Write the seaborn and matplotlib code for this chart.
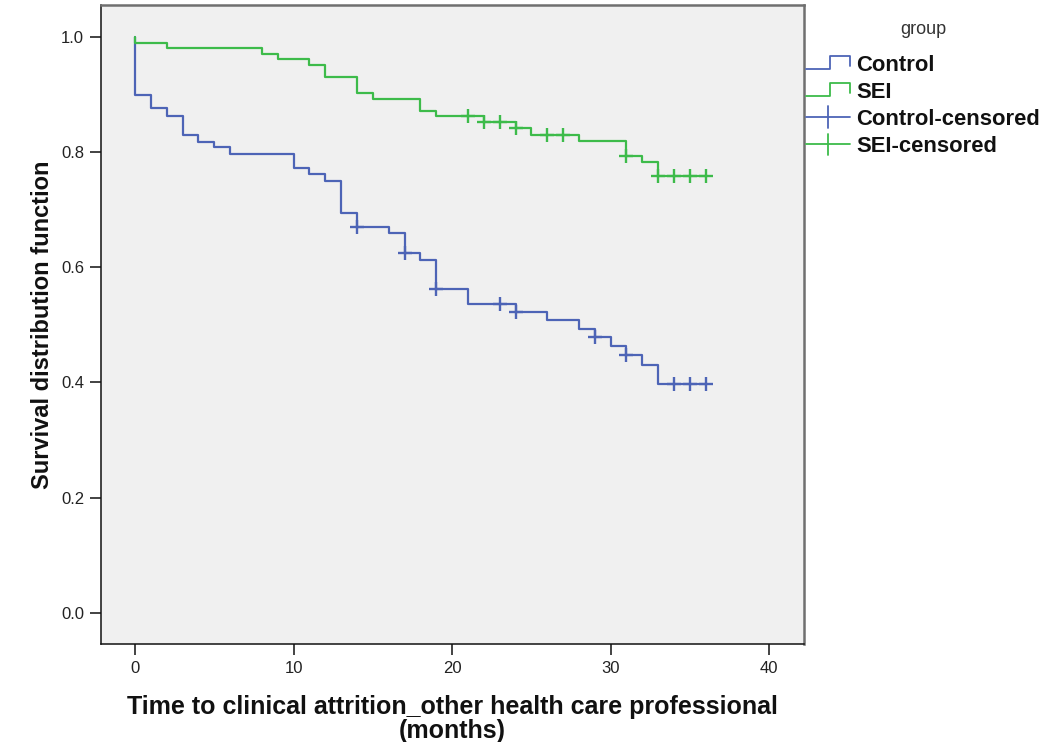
import matplotlib
matplotlib.use("Agg")
import matplotlib.pyplot as plt
from matplotlib.legend_handler import HandlerBase
from matplotlib.lines import Line2D
import numpy as np
import pandas as pd
import seaborn as sns

# ---- data ----
control_times = [0, 0, 1, 2, 3, 4, 5, 6, 10, 11, 12, 13, 14, 16, 17, 18, 19, 21, 24, 26, 28, 29, 30, 31, 32, 33, 36]
control_surv = [1.0, 0.899, 0.876, 0.863, 0.830, 0.818, 0.808, 0.796, 0.773, 0.762, 0.750, 0.694, 0.670,
                0.660, 0.624, 0.612, 0.562, 0.536, 0.522, 0.508, 0.493, 0.478, 0.463, 0.447, 0.431, 0.397, 0.397]
control_censored = [14, 17, 19, 23, 24, 29, 31, 34, 35, 36]

sei_times = [0, 0, 2, 8, 9, 11, 12, 14, 15, 18, 19, 22, 24, 25, 28, 31, 32, 33, 36]
sei_surv = [1.0, 0.990, 0.981, 0.971, 0.961, 0.951, 0.931, 0.902, 0.892, 0.872, 0.862, 0.852, 0.841,
            0.830, 0.819, 0.794, 0.782, 0.758, 0.758]
sei_censored = [21, 22, 23, 24, 26, 27, 31, 33, 34, 35, 36]

groups = ["Control", "SEI"]
legend_labels = ["Control", "SEI", "Control-censored", "SEI-censored"]
x_ticks = [0, 10, 20, 30, 40]
y_ticks = [0.0, 0.2, 0.4, 0.6, 0.8, 1.0]

BLUE = "#4d64b6"
GREEN = "#3dbb4a"
palette = {"Control": BLUE, "SEI": GREEN}


def step_value(times, surv, t):
    idx = max(i for i, tt in enumerate(times) if tt <= t)
    return surv[idx]


curves = pd.concat([
    pd.DataFrame({"time": control_times, "surv": control_surv, "group": "Control"}),
    pd.DataFrame({"time": sei_times, "surv": sei_surv, "group": "SEI"}),
], ignore_index=True)

cens = pd.concat([
    pd.DataFrame({"time": control_censored,
                  "surv": [step_value(control_times, control_surv, t) for t in control_censored],
                  "group": "Control"}),
    pd.DataFrame({"time": sei_censored,
                  "surv": [step_value(sei_times, sei_surv, t) for t in sei_censored],
                  "group": "SEI"}),
], ignore_index=True)

sns.set_style("white")
plt.rcParams["font.family"] = ["Liberation Sans", "DejaVu Sans"]

fig = plt.figure(figsize=(10.58, 7.42), dpi=100)
ax = fig.add_axes([0.0952, 0.1321, 0.6648, 0.8616])
ax.set_facecolor("#f0f0f0")

sns.lineplot(data=curves, x="time", y="surv", hue="group", palette=palette,
             estimator=None, sort=False, units="group", drawstyle="steps-post",
             linewidth=1.6, ax=ax, legend=False)
for g in groups:
    sub = cens[cens["group"] == g]
    ax.plot(sub["time"], sub["surv"], linestyle="none", marker="+", markersize=10,
            markeredgewidth=1.7, color=palette[g])

ax.set_xlim(-2.16, 42.2)
ax.set_ylim(-0.0544, 1.056)
ax.set_xticks(x_ticks)
ax.set_yticks(y_ticks)
ax.set_yticklabels([f"{v:.1f}" for v in y_ticks])
ax.tick_params(axis="both", direction="out", length=8, width=1.2, color="#222222",
               labelsize=12, labelcolor="#222222", left=True, bottom=True, pad=4)

for s in ["left", "bottom"]:
    ax.spines[s].set_color("#111111")
    ax.spines[s].set_linewidth(1.1)
for s in ["top", "right"]:
    ax.spines[s].set_color("#6f6f6f")
    ax.spines[s].set_linewidth(1.8)

ax.set_xlabel("Time to clinical attrition_other health care professional\n(months)",
              fontsize=18, fontweight="bold", linespacing=0.98, labelpad=14, color="#111111")
ax.set_ylabel("Survival distribution function", fontsize=17, fontweight="bold", labelpad=5,
              color="#111111")


class StepHandler(HandlerBase):
    def create_artists(self, legend, orig_handle, xdescent, ydescent, width, height, fontsize, trans):
        x0, x1 = -xdescent, -xdescent + width
        xm = x0 + width * 0.55
        ylo = -ydescent + height * 0.1
        yhi = -ydescent + height * 0.95
        ymid = -ydescent + height * 0.3
        xs = [x0, xm, xm, x1, x1]
        ys = [ylo, ylo, yhi, yhi, ymid]
        line = Line2D(xs, ys, color=orig_handle.get_color(), linewidth=1.3)
        line.set_transform(trans)
        return [line]


class PlusHandler(HandlerBase):
    def create_artists(self, legend, orig_handle, xdescent, ydescent, width, height, fontsize, trans):
        x0, x1 = -xdescent, -xdescent + width
        yc = -ydescent + height / 2
        h = Line2D([x0, x1], [yc, yc], color=orig_handle.get_color(), linewidth=1.3)
        v = Line2D([(x0 + x1) / 2] * 2, [yc - height * 0.7, yc + height * 0.7],
                   color=orig_handle.get_color(), linewidth=1.3)
        h.set_transform(trans)
        v.set_transform(trans)
        return [h, v]


h_c = Line2D([], [], color=BLUE)
h_s = Line2D([], [], color=GREEN)
h_cc = Line2D([], [], color=BLUE, marker="+")
h_sc = Line2D([], [], color=GREEN, marker="+")
leg = fig.legend([h_c, h_s, h_cc, h_sc], legend_labels,
                 loc="upper left", bbox_to_anchor=(0.743, 0.953),
                 frameon=False, prop={"weight": "bold", "size": 15.8},
                 handlelength=2.0, handletextpad=0.3, labelspacing=0.28,
                 handler_map={h_c: StepHandler(), h_s: StepHandler(),
                              h_cc: PlusHandler(), h_sc: PlusHandler()})
for t in leg.get_texts():
    t.set_color("#111111")
fig.text(923 / 1058, 1 - 30 / 742, "group", ha="center", va="center", fontsize=13, color="#333333")

fig.savefig("out.png", dpi=100, facecolor="white")
